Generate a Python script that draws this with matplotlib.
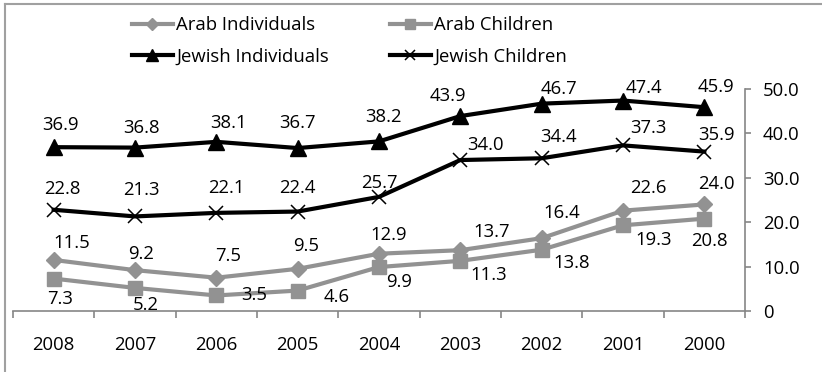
import matplotlib
matplotlib.use('Agg')
import matplotlib.pyplot as plt
from matplotlib.lines import Line2D

plt.rcParams['font.family'] = ['Open Sans', 'DejaVu Sans']

years = ['2008', '2007', '2006', '2005', '2004', '2003', '2002', '2001', '2000']
arab_individuals = [11.5, 9.2, 7.5, 9.5, 12.9, 13.7, 16.4, 22.6, 24.0]
arab_children = [7.3, 5.2, 3.5, 4.6, 9.9, 11.3, 13.8, 19.3, 20.8]
jewish_individuals = [36.9, 36.8, 38.1, 36.7, 38.2, 43.9, 46.7, 47.4, 45.9]
jewish_children = [22.8, 21.3, 22.1, 22.4, 25.7, 34.0, 34.4, 37.3, 35.9]
y_ticks = [0, 10, 20, 30, 40, 50]
y_tick_labels = ['0', '10.0', '20.0', '30.0', '40.0', '50.0']

# label offsets (pixels) for each point, picked to sit like the original
ai_off = [(18, 17), (6, 16), (12, 22), (8, 23), (10, 19), (31, 18), (20, 25), (25, 23), (12, 20)]
ac_off = [(6, -20), (11, -17), (38, 0), (39, -6), (20, -15), (28, -14), (30, -13), (31, -15), (5, -22)]
ji_off = [(7, 22), (6, 20), (12, 19), (0, 25), (4, 24), (-12, 20), (17, 15), (21, 13), (12, 20)]
jc_off = [(9, 21), (6, 26), (10, 25), (0, 24), (0, 14), (25, 15), (17, 21), (25, 17), (12, 17)]

GRAY = '#929292'
AXIS_GRAY = '#868686'
FS = 13.3

fig = plt.figure(figsize=(8.22, 3.72), dpi=100)
ax = fig.add_axes([13 / 822, 1 - 311 / 372, (745 - 13) / 822, (311 - 89) / 372])

x = list(range(len(years)))

series = [
    (arab_individuals, 'Arab Individuals', GRAY, 'D', 8, ai_off),
    (arab_children, 'Arab Children', GRAY, 's', 10, ac_off),
    (jewish_individuals, 'Jewish Individuals', 'black', '^', 11, ji_off),
    (jewish_children, 'Jewish Children', 'black', 'x', 10, jc_off),
]

handles = {}
for vals, name, col, mk, ms, offs in series:
    if mk == 'x':
        ln, = ax.plot(x, vals, color=col, lw=3, marker=mk, ms=ms, mew=1.1,
                      label=name, solid_joinstyle='round')
    else:
        ln, = ax.plot(x, vals, color=col, lw=3, marker=mk, ms=ms,
                      label=name, solid_joinstyle='round')
    handles[name] = ln
    for i, v in enumerate(vals):
        ax.annotate(f'{v:.1f}', (i, v), xytext=offs[i], textcoords='offset pixels',
                    ha='center', va='center', fontsize=FS, color='black')

ax.set_xlim(-0.5, len(years) - 0.5)
ax.set_ylim(0, 50)

for s in ['top', 'left']:
    ax.spines[s].set_visible(False)
for s in ['bottom', 'right']:
    ax.spines[s].set_color(AXIS_GRAY)
    ax.spines[s].set_linewidth(1.2)

ax.yaxis.tick_right()
ax.set_yticks(y_ticks)
ax.set_yticklabels(y_tick_labels)
ax.tick_params(axis='y', direction='out', length=4, width=1.2, color=AXIS_GRAY,
               pad=9, labelsize=FS)

ax.set_xticks([i - 0.5 for i in range(len(years) + 1)])
ax.set_xticklabels([])
ax.set_xticks(x, minor=True)
ax.set_xticklabels(years, minor=True)
ax.tick_params(axis='x', which='major', direction='out', length=5, width=1.2, color=AXIS_GRAY)
ax.tick_params(axis='x', which='minor', length=0, pad=18, labelsize=FS)

leg = fig.legend([handles['Arab Individuals'], handles['Jewish Individuals'],
                  handles['Arab Children'], handles['Jewish Children']],
                 ['Arab Individuals', 'Jewish Individuals', 'Arab Children', 'Jewish Children'],
                 ncol=2, loc='upper left', bbox_to_anchor=(132 / 822, 1 - 16 / 372),
                 frameon=False, fontsize=FS, handlelength=2.2, handletextpad=0.2,
                 columnspacing=3.3, labelspacing=0.75, borderpad=0, borderaxespad=0,
                 markerscale=0.75)

# outer chart border (only left and top visible in the crop)
fig.add_artist(Line2D([4.5 / 822, 4.5 / 822], [0, 1 - 3.5 / 372], color='#a0a0a0', lw=1.5,
                      transform=fig.transFigure))
fig.add_artist(Line2D([4.5 / 822, 1], [1 - 3.5 / 372, 1 - 3.5 / 372], color='#a0a0a0', lw=1.5,
                      transform=fig.transFigure))

fig.savefig('out.png', dpi=100)
